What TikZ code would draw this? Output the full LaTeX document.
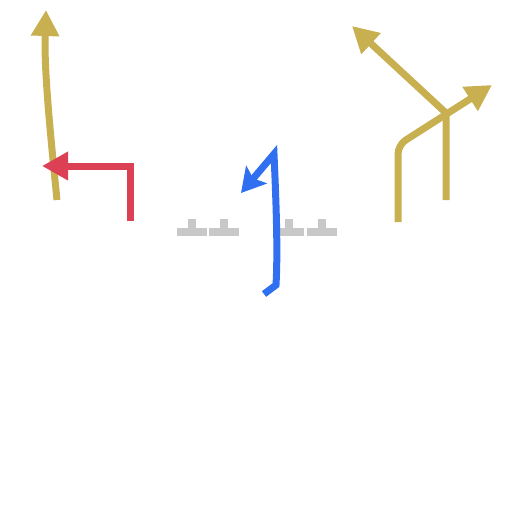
\documentclass[tikz,border=0pt]{standalone}
\usetikzlibrary{arrows.meta}
\definecolor{gold}{HTML}{C8B050}
\definecolor{rd}{HTML}{DC4055}
\definecolor{bl}{HTML}{3070F0}
\definecolor{gr}{HTML}{C8C8C8}
\tikzset{
  route/.style={line width=7pt, line join=miter, -{Triangle[length=26pt,width=27pt]}}
}
\begin{document}
\begin{tikzpicture}[x=1pt,y=-1pt]
\useasboundingbox (0,0) rectangle (512,512);
% left gold curved arrow
\coordinate (lgs) at (57,200);
\coordinate (lgt) at (46,10);
\draw[route, gold] (lgs) .. controls (50,130) and (44,70) .. (lgt);
% red turn arrow
\coordinate (rs) at (130,221);
\coordinate (rc) at (130,166);
\coordinate (rt) at (42,166);
\draw[route, rd] (rs) -- (rc) -- (rt);
% gray tees
\fill[gr] (177,236) rectangle (207,228);
\fill[gr] (188,229) rectangle (196,219);
\fill[gr] (209,236) rectangle (239,228);
\fill[gr] (220,229) rectangle (228,219);
\fill[gr] (274,236) rectangle (304,228);
\fill[gr] (285,229) rectangle (293,219);
\fill[gr] (307,236) rectangle (337,228);
\fill[gr] (318,229) rectangle (326,219);
% blue arrow
\coordinate (bs) at (264,294);
\coordinate (bb) at (276,285);
\coordinate (btop) at (274,154);
\coordinate (bt) at (241,193);
\draw[line width=7pt, bl, line join=miter, miter limit=20, -{Stealth[length=24pt,width=27pt,inset=5pt]}]
  (bs) -- (bb) .. controls (278,250) and (276,200) .. (btop) -- (bt);
% right gold arrows
\coordinate (g1s) at (398,222);
\coordinate (g1c) at (398,145);
\coordinate (g1t) at (492,85);
\draw[route, gold, rounded corners=9pt] (g1s) -- (g1c) -- (g1t);
\coordinate (g2s) at (446,200);
\coordinate (g2c) at (446,113);
\coordinate (g2t) at (352,26);
\draw[route, gold] (g2s) -- (g2c) -- (g2t);
\end{tikzpicture}
\end{document}
